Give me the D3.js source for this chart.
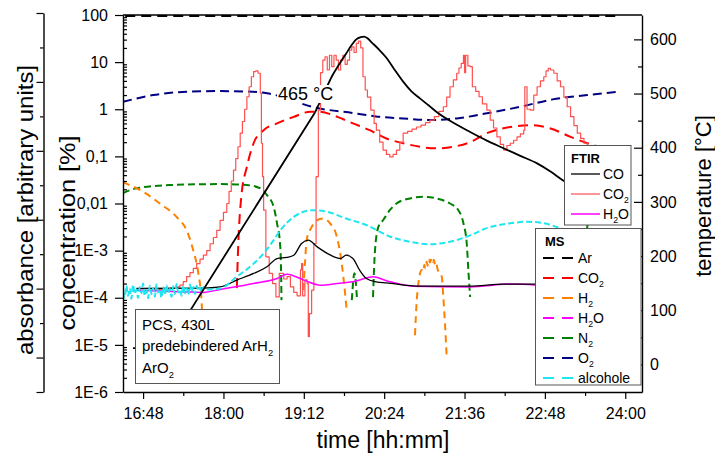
<!DOCTYPE html>
<html>
<head>
<meta charset="utf-8">
<script src="https://cdn.jsdelivr.net/npm/d3@7"></script>
<style>
  body { margin: 0; background: #fff; }
  svg { display: block; font-family: "Liberation Sans", Arial, sans-serif; }
</style>
</head>
<body>
<svg id="chart" width="715" height="459"></svg>
<script>
// ---- axis ticks (time in minutes after midnight) ----
const timeTicks = [1008, 1080, 1152, 1224, 1296, 1368, 1440];
const timeTickLabels = ["16:48", "18:00", "19:12", "20:24", "21:36", "22:48", "24:00"];
const timeMinorTicks = [1044, 1116, 1188, 1260, 1332, 1404];
const concTicks = [100, 10, 1, 0.1, 0.01, 1e-3, 1e-4, 1e-5, 1e-6];
const concTickLabels = ["100", "10", "1", "0,1", "0,01", "1E-3", "1E-4", "1E-5", "1E-6"];
const tempTicks = [0, 100, 200, 300, 400, 500, 600];
const tempMinorTicks = [50, 150, 250, 350, 450, 550];
const absorbanceMajor = [0, 1, 3, 5, 7, 9, 11];
const absorbanceMinor = [2, 4, 6, 8, 10];

// ---- temperature [°C]: linear heating ramp, then exotherm and cooling ----
const temperatureRamp = [[999, 30], [1029, 30], [1162, 465]];
const temperatureCooling = [
  [1162, 465], [1170, 500], [1177, 531], [1184, 555], [1190, 574], [1195, 590],
  [1199, 600], [1203, 604], [1206, 605], [1209, 602], [1213, 594], [1219, 582],
  [1226, 566], [1233, 545], [1241, 522], [1248, 505], [1256, 491], [1264, 478],
  [1271, 466], [1286, 446], [1301, 429], [1316, 413], [1331, 399], [1346, 385],
  [1361, 371], [1373, 356], [1384, 340], [1397, 326], [1410, 313], [1425, 300], [1440, 288]
];

// ---- FTIR [%] ----
const ftirCO = [
  [1002, 1.57e-4], [1062, 1.6e-4], [1077, 1.7e-4], [1092, 2.37e-4], [1107, 3.28e-4],
  [1119, 4.53e-4], [1128, 6.8e-4], [1137, 7.2e-4], [1143, 8.0e-4], [1150, 1.42e-3],
  [1156, 1.67e-3], [1164, 1.2e-3], [1176, 8.0e-4], [1185, 6.8e-4], [1190, 8.0e-4],
  [1196, 6.8e-4], [1202, 3.85e-4], [1208, 2.57e-4], [1217, 2.18e-4], [1226, 2.07e-4],
  [1256, 1.76e-4], [1301, 1.76e-4], [1331, 1.95e-4], [1361, 1.95e-4]
];
const ftirH2O = [
  [1002, 1.45e-4], [1047, 1.33e-4], [1062, 1.3e-4], [1077, 1.5e-4], [1107, 2.01e-4],
  [1128, 2.57e-4], [1137, 3.17e-4], [1152, 2.37e-4], [1167, 1.85e-4], [1182, 2.01e-4],
  [1196, 2.18e-4], [1214, 2.78e-4], [1226, 2.29e-4], [1250, 1.76e-4], [1301, 1.7e-4],
  [1337, 1.95e-4], [1361, 1.85e-4]
];
const ftirCO2 = [
  [1002, 1.57e-4], [1016, 1.5e-4], [1032, 1.6e-4], [1038, 1.7e-4], [1041, 1.85e-4],
  [1044, 2.2e-4], [1047, 2.8e-4], [1050, 3.4e-4], [1053, 4.2e-4], [1056, 5.3e-4],
  [1059, 6.6e-4], [1062, 8.0e-4], [1065, 1.0e-3], [1068, 1.4e-3], [1071, 1.9e-3],
  [1074, 2.7e-3], [1077, 4.4e-3], [1080, 6.5e-3], [1083, 0.010], [1085, 0.018],
  [1087, 0.030], [1089, 0.051], [1091, 0.09], [1093, 0.16], [1095, 0.31], [1097, 0.55],
  [1099, 1.0], [1101, 1.84], [1103, 3.0], [1105, 4.9], [1107, 6.3], [1109, 6.5],
  [1111, 5.8], [1113, 2.2], [1114, 0.19], [1115, 0.037], [1116, 0.0072], [1118, 7.4e-4],
  [1121, 3.3e-4], [1124, 2.0e-4], [1127, 1.04e-4], [1130, 3.3e-4], [1134, 2.5e-4],
  [1137, 2.8e-4], [1140, 1.7e-4], [1143, 1.3e-4], [1146, 1.1e-4], [1149, 3.9e-4],
  [1150, 5.3e-4], [1151, 1.1e-4], [1153, 2.4e-4], [1155, 2.0e-4], [1156, 1.5e-5],
  [1157, 4.6e-5], [1159, 1.45e-4], [1161, 1.4e-3], [1163, 0.037], [1165, 0.96],
  [1167, 6.0], [1169, 11], [1171, 13], [1173, 6.8], [1175, 14], [1177, 8], [1179, 14],
  [1181, 11], [1183, 6.8], [1185, 11], [1187, 14], [1189, 9], [1191, 11], [1193, 18],
  [1195, 21], [1197, 16], [1199, 25], [1201, 28], [1203, 20], [1205, 4.9], [1207, 2.56],
  [1209, 1.8], [1212, 0.96], [1215, 0.5], [1217, 0.36], [1220, 0.2], [1223, 0.136],
  [1226, 0.11], [1229, 0.098], [1232, 0.11], [1235, 0.136], [1238, 0.2], [1241, 0.31],
  [1245, 0.34], [1249, 0.38], [1253, 0.42], [1257, 0.46], [1261, 0.52], [1265, 0.59],
  [1269, 0.7], [1273, 0.9], [1277, 1.13], [1280, 1.8], [1283, 3.0], [1286, 4.2],
  [1289, 5.8], [1291, 7.5], [1293, 9.4], [1295, 14], [1296, 6], [1297, 14], [1299, 8.3],
  [1301, 8.0], [1303, 3.0], [1306, 2.4], [1309, 1.84], [1312, 1.3], [1316, 0.96],
  [1319, 0.59], [1322, 0.4], [1325, 0.26], [1328, 0.18], [1331, 0.136], [1334, 0.17],
  [1337, 0.19], [1340, 0.22], [1343, 0.26], [1346, 0.3], [1349, 0.36], [1350, 3.0],
  [1352, 1.0], [1355, 0.96], [1358, 2.0], [1361, 3.0], [1364, 4.0], [1367, 4.9],
  [1369, 6.5], [1371, 7.4], [1373, 6.8], [1376, 5.8], [1379, 4.0], [1382, 3.0],
  [1385, 1.8], [1388, 1.13], [1391, 0.7], [1394, 0.45], [1397, 0.31], [1400, 0.24],
  [1403, 0.19], [1406, 0.17], [1409, 0.16], [1415, 0.15]
];

// ---- MS [%] ----
const msAr = [[992, 95], [1433, 95]];
const msCO2 = [
  [1092, 1.6e-4], [1093.3, 1.4e-3], [1096, 0.014], [1101, 0.060], [1107, 0.19],
  [1116, 0.36], [1128, 0.50], [1143, 0.69], [1158, 0.89], [1166, 0.89], [1182, 0.69],
  [1196, 0.50], [1211, 0.36], [1226, 0.24], [1241, 0.19], [1271, 0.148], [1286, 0.16],
  [1301, 0.20], [1316, 0.31], [1337, 0.42], [1355, 0.46], [1373, 0.39], [1391, 0.26],
  [1406, 0.19], [1420, 0.15]
];
const msH2 = [
  [[990, 0.028], [996, 0.0246], [1008, 0.0177], [1023, 0.0100], [1038, 5.2e-3],
   [1047, 2.7e-3], [1053, 1.0e-3], [1057.5, 3.3e-4], [1060.5, 7.6e-5], [1061, 4e-5]],
  [[1151.6, 1.45e-4], [1153, 5.3e-4], [1154.6, 1.7e-3], [1158.5, 3.0e-3], [1163.6, 4.4e-3],
   [1169.5, 4.8e-3], [1175.5, 3.8e-3], [1181.5, 2.0e-3], [1186, 5.3e-4], [1189, 1.23e-4],
   [1190.4, 5.5e-5]],
  [[1251.6, 1.6e-5], [1253.2, 8.9e-5], [1254.6, 2.0e-4], [1256, 3.2e-4], [1257.6, 3.9e-4],
   [1259, 3.6e-4], [1260, 5.0e-4], [1261, 4.2e-4], [1262, 5.8e-4], [1263, 4.8e-4],
   [1264, 6.5e-4], [1265, 5.6e-4], [1266.6, 7.0e-4], [1267.5, 5.8e-4], [1268.5, 6.4e-4],
   [1269.6, 5.0e-4], [1270.5, 5.5e-4], [1272, 3.9e-4], [1273.5, 3.4e-4], [1275.6, 2.8e-4],
   [1277, 1.04e-4], [1278.5, 2.8e-5], [1280, 5.6e-6]]
];
const msN2 = [
  [[990, 0.0166], [1002, 0.021], [1032, 0.0246], [1077, 0.0258], [1101, 0.0246],
   [1113, 0.021], [1119, 0.015], [1125, 0.0085], [1128, 3.8e-3], [1130.7, 1.4e-3],
   [1131.6, 3.9e-4], [1132, 8.9e-5]],
  [[1195, 8.9e-5], [1197.4, 3.3e-4], [1199.7, 8.9e-5]],
  [[1214, 1.03e-4], [1215.8, 1.03e-3], [1218.8, 3.2e-3], [1223, 4.4e-3], [1229, 7.2e-3],
   [1235, 0.0100], [1247, 0.0128], [1259, 0.0139], [1271, 0.0128], [1283, 0.0100],
   [1290.5, 7.2e-3], [1295, 3.8e-3], [1298, 1.4e-3], [1299.4, 3.9e-4], [1301, 1.04e-4]],
  [[1405, 2.0e-4], [1406, 3.3e-3], [1410, 6.0e-3], [1425, 0.010], [1445, 0.012]]
];
const msO2 = [
  [990, 1.44], [1017, 2.0], [1047, 2.35], [1077, 2.43], [1106, 2.35], [1119, 2.18],
  [1164, 1.06], [1196, 0.83], [1214, 0.72], [1220, 0.69], [1241, 0.64], [1265, 0.59],
  [1289, 0.64], [1316, 0.82], [1346, 1.13], [1375, 1.62], [1406, 2.0], [1433, 2.35]
];
const msAlcohole = [
  [990, 1.3e-4], [991.5, 1.0e-4], [993, 1.8e-4], [994.5, 1.1e-4], [996, 1.6e-4],
  [997.5, 0.95e-4], [999, 1.9e-4], [1000.5, 1.2e-4], [1002, 1.5e-4], [1003.5, 1.0e-4],
  [1005, 1.7e-4], [1006.5, 1.25e-4], [1008, 2.0e-4], [1009.5, 1.1e-4], [1011, 1.4e-4],
  [1012.5, 0.98e-4], [1014, 1.8e-4], [1015.5, 1.2e-4], [1017, 1.6e-4], [1018.5, 1.05e-4],
  [1020, 1.9e-4], [1021.5, 1.3e-4], [1023, 1.5e-4], [1024.5, 1.0e-4], [1026, 1.7e-4],
  [1027.5, 1.15e-4], [1029, 1.85e-4], [1030.5, 1.25e-4], [1032, 1.55e-4], [1033.5, 1.05e-4],
  [1035, 1.75e-4], [1036.5, 1.2e-4], [1038, 1.95e-4], [1039.5, 1.3e-4], [1041, 1.5e-4],
  [1042.5, 1.1e-4], [1044, 1.8e-4], [1045.5, 1.25e-4], [1047, 1.6e-4], [1048.5, 1.15e-4],
  [1050, 1.9e-4], [1051.5, 1.35e-4], [1053, 1.7e-4], [1054.5, 1.2e-4], [1056, 1.8e-4],
  [1057.5, 1.4e-4], [1059, 1.65e-4], [1060.5, 1.3e-4], [1062, 1.7e-4], [1064, 1.5e-4],
  [1077, 1.57e-4], [1092, 2.8e-4], [1107, 5.3e-4], [1116, 8.7e-4], [1125, 1.67e-3],
  [1131, 2.7e-3], [1143, 5.2e-3], [1155, 7.0e-3], [1160.5, 7.2e-3], [1172.5, 6.7e-3],
  [1190, 4.8e-3], [1208, 3.5e-3], [1229, 2.0e-3], [1247, 1.54e-3], [1265, 1.37e-3],
  [1283, 1.54e-3], [1301, 2.1e-3], [1316, 3.0e-3], [1337, 3.8e-3], [1352, 4.1e-3],
  [1367, 3.8e-3], [1382, 3.0e-3], [1400, 2.1e-3]
];

const peakTemperatureLabel = 465;

// ---- layout ----
const svg = d3.select("#chart");
const L = 123, R = 642, T = 15, B = 392;

const x = d3.scaleLinear().domain([990, 1455]).range([L, R]);
const yC = d3.scaleLog().domain([1e-6, 100]).range([B, T]);
const yT = d3.scaleLinear().domain([-51, 645]).range([B, T]);
const yA = d3.scaleLinear().domain([0, 11]).range([B, 13]);

svg.append("defs").append("clipPath").attr("id", "plotArea")
  .append("rect").attr("x", L).attr("y", T).attr("width", R - L).attr("height", B - T);

const dataLayer = svg.append("g").attr("clip-path", "url(#plotArea)");

const lineC = d3.line().x(d => x(d[0])).y(d => yC(d[1])).curve(d3.curveMonotoneX);
const stepC = d3.line().x(d => x(d[0])).y(d => yC(d[1])).curve(d3.curveStepAfter);
const rampT = d3.line().x(d => x(d[0])).y(d => yT(d[1]));
const lineT = d3.line().x(d => x(d[0])).y(d => yT(d[1])).curve(d3.curveMonotoneX);

function draw(segments, gen, color, width, dash) {
  segments.forEach(seg => {
    dataLayer.append("path")
      .attr("d", gen(seg))
      .attr("fill", "none")
      .attr("stroke", color)
      .attr("stroke-width", width)
      .attr("stroke-dasharray", dash || null)
      .attr("stroke-linejoin", "round");
  });
}

const colors = {
  Ar: "#000000", CO2ms: "#ff0000", H2: "#ff8000", H2Oms: "#ff00ff",
  N2: "#008000", O2: "#000080", alcohole: "#1ee6f0",
  CO: "#000000", CO2ftir: "#ff5050", H2Oftir: "#ff00ff"
};
const dashes = {
  Ar: "10,6", CO2ms: "10,6", H2: "7,5", H2Oms: "8,5", N2: "7,4", O2: "9,5", alcohole: "6,3"
};

// MS traces
draw([msAr], lineC, colors.Ar, 2, dashes.Ar);
draw([msO2], lineC, colors.O2, 2, dashes.O2);
draw(msN2, lineC, colors.N2, 2, dashes.N2);
draw(msH2, lineC, colors.H2, 2, dashes.H2);
draw([msCO2], lineC, colors.CO2ms, 2, dashes.CO2ms);
// FTIR traces
draw([ftirCO2], stepC, colors.CO2ftir, 1.2, null);
draw([ftirH2O], lineC, colors.H2Oftir, 1.5, null);
draw([ftirCO], lineC, colors.CO, 1.3, null);
draw([msAlcohole], lineC, colors.alcohole, 2, dashes.alcohole);
// temperature on the right axis
draw([temperatureRamp], rampT, "#000", 1.8, null);
draw([temperatureCooling], lineT, "#000", 1.8, null);

// ---- axes ----
function styleAxis(g, size) {
  g.attr("font-family", null).attr("font-size", size);
  g.selectAll("path.domain").attr("stroke-width", 1.4);
  g.selectAll(".tick line").attr("stroke-width", 1.2);
  g.selectAll(".tick text").attr("fill", "#000");
}

// concentration (log)
const gL = svg.append("g").attr("transform", `translate(${L},0)`)
  .call(d3.axisLeft(yC).tickValues(concTicks)
    .tickFormat((d, i) => concTickLabels[i])
    .tickSizeInner(8).tickSizeOuter(0).tickPadding(7));
styleAxis(gL, 16);
const concMinor = yC.ticks().filter(v => Math.abs(Math.log10(v) - Math.round(Math.log10(v))) > 1e-6);
const gLm = svg.append("g").attr("transform", `translate(${L},0)`)
  .call(d3.axisRight(yC).tickValues(concMinor).tickFormat("").tickSizeInner(4).tickSizeOuter(0));
gLm.select("path.domain").remove();
styleAxis(gLm, 10);

// temperature
const gR = svg.append("g").attr("transform", `translate(${R},0)`)
  .call(d3.axisRight(yT).tickValues(tempTicks)
    .tickSizeInner(-8).tickSizeOuter(0).tickPadding(8));
styleAxis(gR, 16);
const gRm = svg.append("g").attr("transform", `translate(${R},0)`)
  .call(d3.axisRight(yT).tickValues(tempMinorTicks).tickFormat("").tickSizeInner(-4).tickSizeOuter(0));
gRm.select("path.domain").remove();
styleAxis(gRm, 10);

// time
const gB = svg.append("g").attr("transform", `translate(0,${B})`)
  .call(d3.axisBottom(x).tickValues(timeTicks)
    .tickFormat((d, i) => timeTickLabels[i])
    .tickSizeInner(7).tickSizeOuter(0).tickPadding(9));
styleAxis(gB, 16);
const gBm = svg.append("g").attr("transform", `translate(0,${B})`)
  .call(d3.axisBottom(x).tickValues(timeMinorTicks).tickFormat("").tickSizeInner(4).tickSizeOuter(0));
gBm.select("path.domain").remove();
styleAxis(gBm, 10);

// frame top
svg.append("line").attr("x1", L).attr("x2", R).attr("y1", T).attr("y2", T)
  .attr("stroke", "#000").attr("stroke-width", 1.4);

// absorbance axis (unlabelled)
const gA = svg.append("g").attr("transform", "translate(43.5,0)")
  .call(d3.axisLeft(yA).tickValues(absorbanceMajor).tickFormat("").tickSizeInner(7).tickSizeOuter(0));
styleAxis(gA, 10);
const gAm = svg.append("g").attr("transform", "translate(43.5,0)")
  .call(d3.axisLeft(yA).tickValues(absorbanceMinor).tickFormat("").tickSizeInner(3.5).tickSizeOuter(0));
gAm.select("path.domain").remove();
styleAxis(gAm, 10);

// ---- axis titles ----
svg.append("text").attr("x", 383).attr("y", 448)
  .attr("text-anchor", "middle").attr("font-size", 23).text("time [hh:mm]");
svg.append("text").attr("transform", "translate(33,210) rotate(-90)")
  .attr("text-anchor", "middle").attr("font-size", 22)
  .attr("textLength", 290).attr("lengthAdjust", "spacingAndGlyphs")
  .text("absorbance [arbitrary units]");
svg.append("text").attr("transform", "translate(75,233) rotate(-90)")
  .attr("text-anchor", "middle").attr("font-size", 22)
  .attr("textLength", 195).attr("lengthAdjust", "spacingAndGlyphs")
  .text("concentration [%]");
svg.append("text").attr("transform", "translate(711,196) rotate(-90)")
  .attr("text-anchor", "middle").attr("font-size", 22).text("temperature [°C]");

// chemical formulas: digits become subscripts
function rich(textSel, str, size) {
  const parts = str.match(/\d+|[^\d]+/g);
  let down = false;
  parts.forEach(p => {
    const sub = /^\d+$/.test(p);
    const t = textSel.append("tspan").text(p);
    if (sub) { t.attr("font-size", size * 0.62).attr("dy", size * 0.3); down = true; }
    else if (down) { t.attr("dy", -size * 0.3); down = false; }
  });
}

// ---- peak temperature label ----
const peakLabel = svg.append("text").attr("x", 278).attr("y", 100)
  .attr("font-size", 18).text(`${peakTemperatureLabel} °C`);
const pb = peakLabel.node().getBBox();
svg.insert("rect", () => peakLabel.node())
  .attr("x", pb.x - 1).attr("y", pb.y + 1).attr("width", pb.width + 2).attr("height", pb.height - 2)
  .attr("fill", "#fff");

// ---- sample description box ----
const infoLines = ["PCS, 430L", "predebindered ArH2", "ArO2"];
svg.append("rect").attr("x", 135.5).attr("y", 309.5).attr("width", 144).attr("height", 74)
  .attr("fill", "#fff").attr("stroke", "#555").attr("stroke-width", 1);
infoLines.forEach((s, i) => {
  const t = svg.append("text").attr("x", 142).attr("y", [330, 351, 373][i]).attr("font-size", 15);
  if (i === 0) t.text(s); else rich(t, s, 15);
});

// ---- legends ----
const ftirLegend = [
  { label: "CO", color: colors.CO, width: 1.3 },
  { label: "CO2", color: colors.CO2ftir, width: 1.2 },
  { label: "H2O", color: colors.H2Oftir, width: 1.5 }
];
const msLegend = [
  { label: "Ar", color: colors.Ar },
  { label: "CO2", color: colors.CO2ms },
  { label: "H2", color: colors.H2 },
  { label: "H2O", color: colors.H2Oms },
  { label: "N2", color: colors.N2 },
  { label: "O2", color: colors.O2 },
  { label: "alcohole", color: colors.alcohole }
];

function legend(box, title, items, rowY, sx0, sx1, tx, dashed) {
  svg.append("rect").attr("x", box[0]).attr("y", box[1]).attr("width", box[2]).attr("height", box[3])
    .attr("fill", "#fff").attr("stroke", "#555").attr("stroke-width", 1);
  svg.append("text").attr("x", title[1]).attr("y", title[2])
    .attr("font-size", 13).attr("font-weight", "bold").text(title[0]);
  items.forEach((it, i) => {
    const y = rowY[i];
    svg.append("line").attr("x1", sx0).attr("x2", sx1).attr("y1", y).attr("y2", y)
      .attr("stroke", it.color).attr("stroke-width", dashed ? 2 : it.width)
      .attr("stroke-dasharray", dashed ? "11,8" : null);
    const t = svg.append("text").attr("x", tx).attr("y", y + 5).attr("font-size", 14);
    rich(t, it.label, 14);
  });
}

legend([564.5, 145.5, 66.5, 79.5], ["FTIR", 571, 163], ftirLegend, [174, 194, 214], 571, 600, 603, false);
legend([535.5, 228.5, 105.5, 156.5], ["MS", 545, 246], msLegend,
  [258, 278, 298, 318, 338, 358, 378], 543, 573, 578, true);
</script>
</body>
</html>
